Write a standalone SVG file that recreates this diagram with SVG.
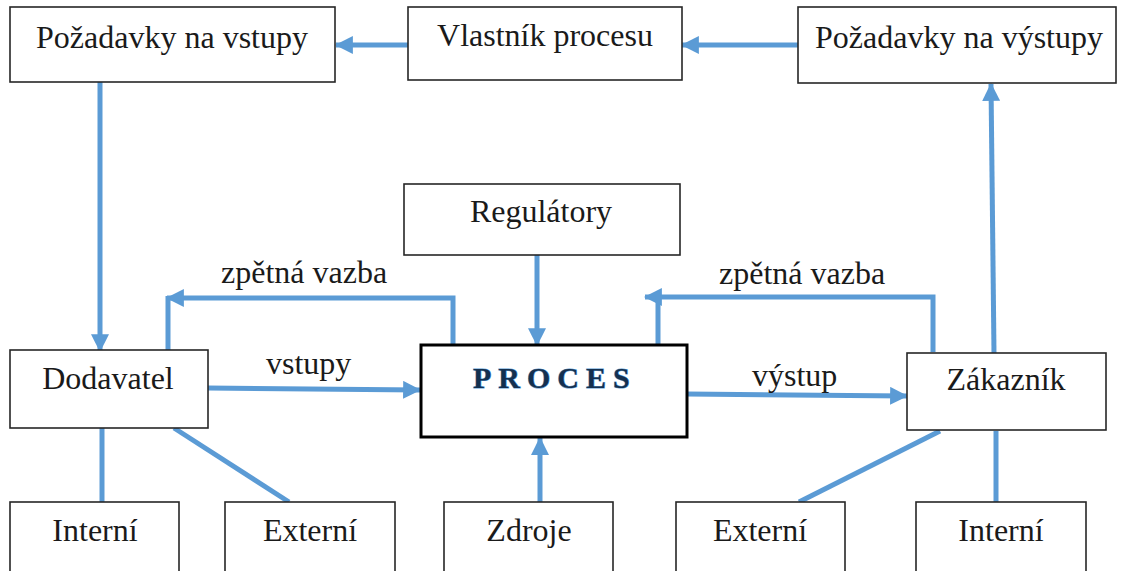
<svg xmlns="http://www.w3.org/2000/svg" width="1121" height="571" viewBox="0 0 1121 571">
  <defs>
    <marker id="arrow" markerUnits="userSpaceOnUse" markerWidth="18" markerHeight="18" viewBox="0 0 16 16" refX="15" refY="8" orient="auto">
      <path d="M0,0 L16,8 L0,16 Z" fill="#5B9BD5"/>
    </marker>
    <style>
      .box { fill: #ffffff; stroke: #262626; stroke-width: 1.6; }
      .main { fill: #ffffff; stroke: #000000; stroke-width: 3; }
      .lbl { font-family: "Liberation Serif", "Times New Roman", serif; font-size: 32px; fill: #1a1a1a; }
      .mid { text-anchor: middle; }
      .title { font-family: "Liberation Serif", "Times New Roman", serif; font-size: 30px; font-weight: bold; letter-spacing: 7px; fill: #14304F; stroke: #5B9BD5; stroke-width: 1; paint-order: stroke; }
      .conn { fill: none; stroke: #5B9BD5; stroke-width: 5; }
      .arr { marker-end: url(#arrow); }
    </style>
  </defs>

  <!-- connectors -->
  <g id="connectors">
    <line class="conn arr" x1="408" y1="45" x2="336" y2="45"/>
    <line class="conn arr" x1="798" y1="45" x2="682" y2="45"/>
    <line class="conn arr" x1="100" y1="82" x2="100" y2="351"/>
    <path class="conn arr" d="M453,345 V298 H167"/>
    <line class="conn" x1="168" y1="296" x2="168" y2="350"/>
    <line class="conn arr" x1="208" y1="388" x2="420" y2="390"/>
    <line class="conn arr" x1="537" y1="255" x2="537" y2="345"/>
    <path class="conn arr" d="M933,352 V297 H645"/>
    <line class="conn" x1="658" y1="295" x2="658" y2="345"/>
    <line class="conn arr" x1="687" y1="394" x2="907" y2="396"/>
    <line class="conn arr" x1="994" y1="353" x2="991" y2="84"/>
    <line class="conn arr" x1="540" y1="502" x2="540" y2="438"/>
    <line class="conn" x1="102" y1="428" x2="102" y2="502"/>
    <line class="conn" x1="174" y1="428" x2="289" y2="502"/>
    <line class="conn" x1="940" y1="431" x2="799" y2="502"/>
    <line class="conn" x1="996" y1="431" x2="996" y2="502"/>
  </g>

  <!-- top row -->
  <g id="pozadavky-vstupy">
    <rect class="box" x="10" y="7" width="325" height="75"/>
    <text class="lbl mid" x="172" y="48">Požadavky na vstupy</text>
  </g>
  <g id="vlastnik">
    <rect class="box" x="408" y="7" width="274" height="73"/>
    <text class="lbl mid" x="545" y="46">Vlastník procesu</text>
  </g>
  <g id="pozadavky-vystupy">
    <rect class="box" x="798" y="7" width="318" height="76"/>
    <text class="lbl mid" x="959" y="48">Požadavky na výstupy</text>
  </g>

  <!-- middle row -->
  <g id="regulatory">
    <rect class="box" x="404" y="184" width="276" height="71"/>
    <text class="lbl mid" x="541" y="222">Regulátory</text>
  </g>
  <g id="dodavatel">
    <rect class="box" x="10" y="350" width="198" height="78"/>
    <text class="lbl mid" x="108" y="389">Dodavatel</text>
  </g>
  <g id="proces">
    <rect class="main" x="421" y="345" width="266" height="92"/>
    <text class="title" x="473" y="388">PROCES</text>
  </g>
  <g id="zakaznik">
    <rect class="box" x="907" y="353" width="199" height="77"/>
    <text class="lbl mid" x="1006" y="390">Zákazník</text>
  </g>

  <!-- connector labels -->
  <g id="labels">
    <text class="lbl" x="221" y="283">zpětná vazba</text>
    <text class="lbl" x="719" y="284">zpětná vazba</text>
    <text class="lbl" x="266" y="374">vstupy</text>
    <text class="lbl" x="752" y="386">výstup</text>
  </g>

  <!-- bottom row -->
  <g id="interni-dodavatel">
    <rect class="box" x="10" y="502" width="169" height="80"/>
    <text class="lbl mid" x="95" y="541">Interní</text>
  </g>
  <g id="externi-dodavatel">
    <rect class="box" x="225" y="502" width="170" height="80"/>
    <text class="lbl mid" x="310" y="541">Externí</text>
  </g>
  <g id="zdroje">
    <rect class="box" x="444" y="502" width="169" height="80"/>
    <text class="lbl mid" x="529" y="541">Zdroje</text>
  </g>
  <g id="externi-zakaznik">
    <rect class="box" x="676" y="502" width="169" height="80"/>
    <text class="lbl mid" x="760" y="541">Externí</text>
  </g>
  <g id="interni-zakaznik">
    <rect class="box" x="916" y="502" width="170" height="80"/>
    <text class="lbl mid" x="1001" y="541">Interní</text>
  </g>
</svg>
